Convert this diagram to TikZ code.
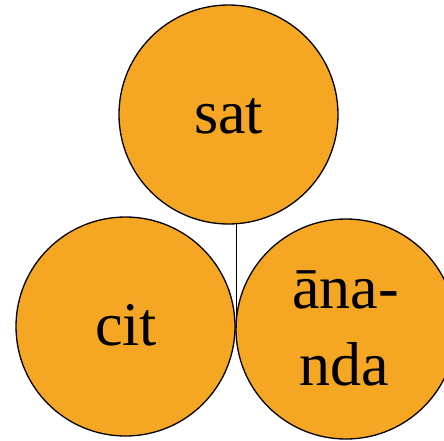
\documentclass[tikz,border=0pt]{standalone}
\usepackage{fontspec}
\setmainfont{Liberation Serif}
\definecolor{orangefill}{HTML}{F5A623}
\tikzset{
  ball/.style={circle, draw=black, line width=1.3pt, fill=orangefill, inner sep=0pt, minimum size=#1},
  word/.style={anchor=base, inner sep=0pt, font=\fontsize{62}{77}\selectfont},
  stem/.style={draw=black, line width=1.3pt}
}
\begin{document}
\begin{tikzpicture}[x=1pt, y=-1pt]
  \useasboundingbox (0,0) rectangle (444,440);
  \node[ball=219pt] (sat) at (228.5,114.5) {};
  \node[ball=219pt] (cit) at (125.5,326.5) {};
  \node[ball=220pt] (ananda) at (346,329) {};
  \coordinate (meet) at (236,328);
  \draw[stem] (sat.-86) -- (sat.-86 |- meet);
  \node[word] (tsat) at (228.5,133) {sat};
  \node[word] (tcit) at (126,345) {cit};
  \node[word] (tana) at (345.5,308) {āna-};
  \node[word] (tnda) at (344.5,385) {nda};
\end{tikzpicture}
\end{document}
